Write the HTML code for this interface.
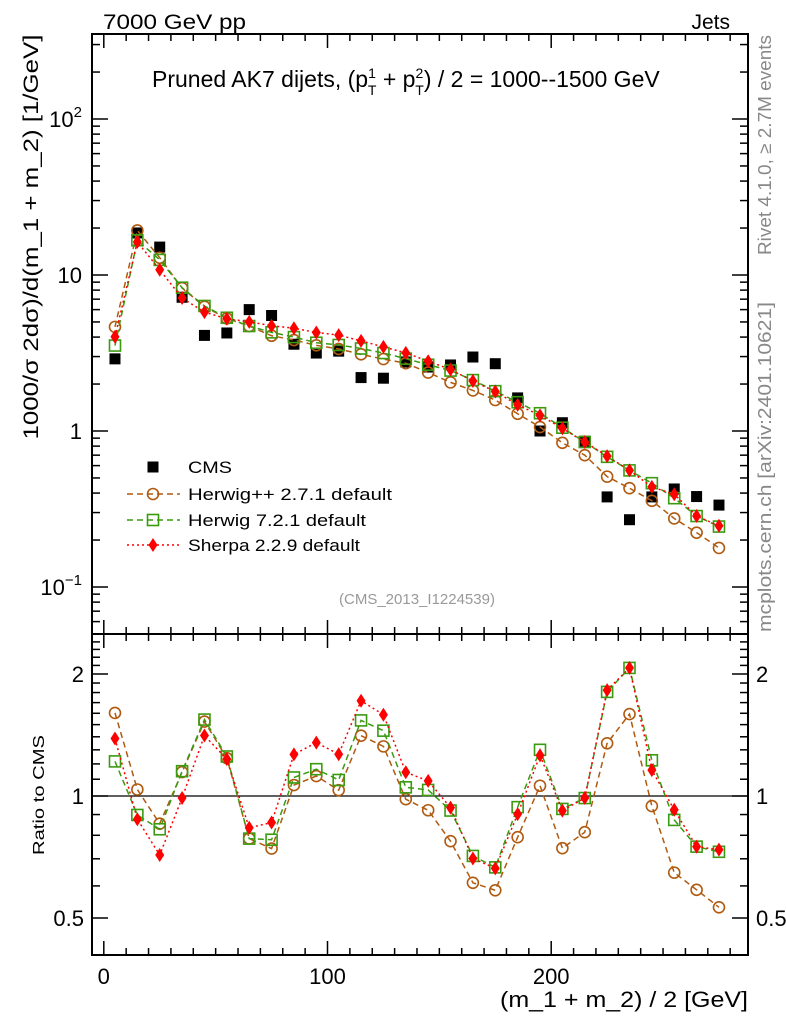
<!DOCTYPE html>
<html><head><meta charset="utf-8"><style>
html,body{margin:0;padding:0;background:#fff}
svg{display:block;font-family:"Liberation Sans",sans-serif}
</style></head><body>
<svg id="chart" width="786" height="1024" viewBox="0 0 786 1024" xmlns="http://www.w3.org/2000/svg">
<g id="main"></g>
<g id="ratio"></g>
<text x="103" y="29" font-size="21" textLength="143" lengthAdjust="spacingAndGlyphs">7000 GeV pp</text>
<text x="730" y="29" font-size="21" text-anchor="end">Jets</text>
<text x="152" y="87" font-size="23">Pruned AK7 dijets, (p<tspan font-size="14" dy="-9">1</tspan><tspan font-size="14" dx="-8" dy="17">T</tspan><tspan dy="-8"> + p</tspan><tspan font-size="14" dy="-9">2</tspan><tspan font-size="14" dx="-8" dy="17">T</tspan><tspan dy="-8">) / 2 = 1000--1500 GeV</tspan></text>
<text transform="translate(38,237) rotate(-90)" font-size="21" text-anchor="middle" textLength="405" lengthAdjust="spacingAndGlyphs">1000/σ   2dσ)/d(m_1 + m_2) [1/GeV]</text>
<text transform="translate(44,795) rotate(-90)" font-size="16" text-anchor="middle" textLength="120" lengthAdjust="spacingAndGlyphs">Ratio to CMS</text>
<text x="748" y="1007" font-size="22" text-anchor="end" textLength="248" lengthAdjust="spacingAndGlyphs">(m_1 + m_2) / 2 [GeV]</text>
<text transform="translate(771,35) rotate(-90)" font-size="18" fill="#888" text-anchor="end" textLength="220" lengthAdjust="spacingAndGlyphs">Rivet 4.1.0, ≥ 2.7M events</text>
<text transform="translate(771,632) rotate(-90)" font-size="18" fill="#888" textLength="330" lengthAdjust="spacingAndGlyphs">mcplots.cern.ch [arXiv:2401.10621]</text>
<text x="417" y="604" font-size="15" fill="#999" text-anchor="middle">(CMS_2013_I1224539)</text>
</svg>
<script>
const bins=[5,15,25,35,45,55,65,75,85,95,105,115,125,135,145,155,165,175,185,195,205,215,225,235,245,255,265,275];
const cms=[2.9,18.6,15.1,7.2,4.1,4.25,6.0,5.5,3.6,3.16,3.25,2.2,2.18,2.77,2.57,2.65,2.98,2.7,1.63,1.0,1.13,0.86,0.378,0.27,0.378,0.425,0.38,0.335];
const herwigpp=[4.65,19.3,12.9,8.25,6.26,5.27,4.71,4.08,3.83,3.54,3.36,3.1,2.89,2.72,2.37,2.05,1.82,1.58,1.29,1.06,0.84,0.70,0.51,0.43,0.357,0.275,0.223,0.178];
const herwig7=[3.53,16.7,12.5,8.29,6.33,5.32,4.71,4.29,4.0,3.68,3.56,3.38,3.16,2.91,2.66,2.44,2.12,1.80,1.53,1.30,1.05,0.85,0.683,0.559,0.463,0.371,0.285,0.244];
const sherpa=[4.02,16.3,10.8,7.12,5.78,5.24,5.01,4.73,4.56,4.28,4.12,3.78,3.46,3.17,2.80,2.48,2.09,1.79,1.47,1.26,1.04,0.85,0.69,0.559,0.438,0.393,0.285,0.247];
const xTicks=[0,100,200];
const yTicks=[0.1,1,10,100];
const yTickLabels=["10^-1","1","10","10^2"];
const rTicks=[0.5,1,2];
const rTickLabels=["0.5","1","2"];

const NS="http://www.w3.org/2000/svg";
const L=92,R=748,T=34,MB=634,RB=955;
const X=v=>103.8+v*2.237;
const Y=v=>431-156*Math.log10(v);
const YR=v=>796-122*Math.log2(v);
function mk(p,tag,at){const e=document.createElementNS(NS,tag);for(const k in at)e.setAttribute(k,at[k]);p.appendChild(e);return e;}
const main=document.getElementById('main'),ratio=document.getElementById('ratio');

let f=mk(main,'rect',{x:L,y:T,width:R-L,height:MB-T,fill:'none',stroke:'#000','stroke-width':2});


f=mk(ratio,'rect',{x:L,y:MB,width:R-L,height:RB-MB,fill:'none',stroke:'#000','stroke-width':2});



for(let v=0;v<=280;v+=10){
  const big=v%100===0, len=big?14:7;
  [[T,1,main],[MB,-1,main],[MB,1,ratio],[RB,-1,ratio]].forEach(([y0,d,g])=>{
    const t=mk(g,'line',{x1:X(v),x2:X(v),y1:y0,y2:y0+d*len,stroke:'#000','stroke-width':1.5});
    
    
  });
}
xTicks.forEach(v=>{
  const t=mk(ratio,'text',{x:X(v),y:984,'font-size':22,'text-anchor':'middle'});t.textContent=v;
  
  
});
for(let d=-2;d<=2;d++)for(let m=1;m<=9;m++){
  const v=m*Math.pow(10,d),y=Y(v);if(y<T||y>MB)continue;
  const len=m===1?16:8;
  [[L,1],[R,-1]].forEach(([x0,s])=>{
    const t=mk(main,'line',{x1:x0,x2:x0+s*len,y1:y,y2:y,stroke:'#000','stroke-width':1.5});
    
    
  });
}
yTicks.forEach((v,i)=>{
  const s=yTickLabels[i],t=mk(main,'text',{x:82,y:Y(v)+8,'font-size':22,'text-anchor':'end'});
  if(s.indexOf('^')>0){const [b,e]=s.split('^');t.textContent=b;const sp=mk(t,'tspan',{dy:-10,'font-size':15});sp.textContent=e.replace('-','−');}
  else t.textContent=s;
  
  
});
[0.5,0.6,0.7,0.8,0.9,1,1.1,1.2,1.3,1.4,1.5,1.6,1.7,1.8,1.9,2,2.1,2.2,2.3,2.4].forEach(v=>{
  const y=YR(v);if(y<MB||y>RB)return;const big=(v===0.5||v===1||v===2),len=big?16:8;
  [[L,1],[R,-1]].forEach(([x0,s])=>{
    const t=mk(ratio,'line',{x1:x0,x2:x0+s*len,y1:y,y2:y,stroke:'#000','stroke-width':1.5});
    
    
  });
});
rTicks.forEach((v,i)=>{
  let t=mk(ratio,'text',{x:84,y:YR(v)+8,'font-size':22,'text-anchor':'end'});t.textContent=rTickLabels[i];
  
  
  t=mk(ratio,'text',{x:756,y:YR(v)+8,'font-size':22});t.textContent=rTickLabels[i];
  
  
});
let ref=mk(ratio,'line',{x1:L,x2:R,y1:YR(1),y2:YR(1),stroke:'#000','stroke-width':1.3});



const series=[
 {name:'herwigpp',vals:herwigpp,col:'#b05a10',dash:'6,4',mark:'circle'},
 {name:'herwig7',vals:herwig7,col:'#3a9a10',dash:'6,4',mark:'square'},
 {name:'sherpa',vals:sherpa,col:'#ff0000',dash:'2,3',mark:'diamond'}];
function marker(g,type,x,y,col){
  let e;
  if(type==='circle')e=mk(g,'circle',{cx:x,cy:y,r:5.5,fill:'none',stroke:col,'stroke-width':1.6});
  else if(type==='square')e=mk(g,'rect',{x:x-5.5,y:y-5.5,width:11,height:11,fill:'none',stroke:col,'stroke-width':1.6});
  else if(type==='diamond')e=mk(g,'polygon',{points:`${x},${y-7} ${x+4.5},${y} ${x},${y+7} ${x-4.5},${y}`,fill:col});
  else e=mk(g,'rect',{x:x-5.5,y:y-5.5,width:11,height:11,fill:'#000'});
  return e;
}
const cg=mk(main,'g',{});
bins.forEach((b,i)=>{const e=marker(cg,'sq',X(b),Y(cms[i]));
  
  });
series.forEach(s=>{
  const g=mk(main,'g',{});
  const pl=mk(g,'polyline',{points:bins.map((b,i)=>X(b)+','+Y(s.vals[i])).join(' '),fill:'none',stroke:s.col,'stroke-width':1.5,'stroke-dasharray':s.dash});
  
  
  bins.forEach((b,i)=>{const e=marker(g,s.mark,X(b),Y(s.vals[i]),s.col);
    
    });
  const rg=mk(ratio,'g',{});
  const rl=mk(rg,'polyline',{points:bins.map((b,i)=>X(b)+','+YR(s.vals[i]/cms[i])).join(' '),fill:'none',stroke:s.col,'stroke-width':1.5,'stroke-dasharray':s.dash});
  
  
  bins.forEach((b,i)=>{const e=marker(rg,s.mark,X(b),YR(s.vals[i]/cms[i]),s.col);
    
    });
});
const lg=mk(main,'g',{});
const entries=[['CMS',null,467,44],['Herwig++ 2.7.1 default',series[0],494,204],['Herwig 7.2.1 default',series[1],520,178],['Sherpa 2.2.9 default',series[2],545,172]];
entries.forEach(([lab,s,y,w])=>{
  const eg=mk(lg,'g',{});
  if(s){mk(eg,'line',{x1:127,x2:180,y1:y,y2:y,stroke:s.col,'stroke-width':1.5,'stroke-dasharray':s.dash});marker(eg,s.mark,153,y,s.col);}
  else marker(eg,'sq',153,y);
  const t=mk(eg,'text',{x:188,y:y+6,'font-size':17,textLength:w,lengthAdjust:'spacingAndGlyphs'});t.textContent=lab;
});
</script>
</body></html>
